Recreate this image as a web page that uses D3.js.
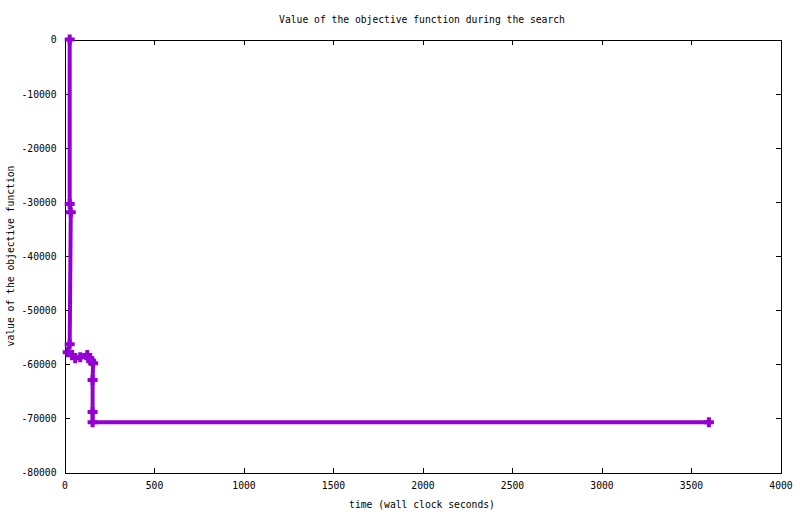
<!DOCTYPE html>
<html>
<head>
<meta charset="utf-8">
<script src="https://cdn.jsdelivr.net/npm/d3@7"></script>
<style>
  body { margin: 0; background: #fff; }
  svg { display: block; }
  text { font-family: "DejaVu Sans Mono", "Liberation Mono", monospace; font-size: 9.7px; fill: #000; }
</style>
</head>
<body>
<svg id="chart" width="800" height="514"></svg>
<script>
// Data (time in wall clock seconds, objective value)
const times  = [29, 29, 35, 29, 18, 43, 60, 88, 127, 138, 149, 160, 157, 157, 157, 3600];
const values = [0, -30400, -31900, -56300, -57800, -58300, -58900, -58700, -58300, -58900, -59400, -59800, -62900, -68800, -70700, -70700];
const xTicks = [0, 500, 1000, 1500, 2000, 2500, 3000, 3500, 4000];
const yTicks = [0, -10000, -20000, -30000, -40000, -50000, -60000, -70000, -80000];
const title = "Value of the objective function during the search";
const xLabel = "time (wall clock seconds)";
const yLabel = "value of the objective function";

const svg = d3.select("#chart");
const L = 64.5, R = 780.5, T = 39.5, B = 472.5;
const x = d3.scaleLinear().domain([0, 4000]).range([L, R]);
const y = d3.scaleLinear().domain([-80000, 0]).range([B, T]);

const color = "#9400d3";

// Axes with inward ticks on all four sides
const gB = svg.append("g").attr("transform", `translate(0,${B})`)
  .call(d3.axisBottom(x).tickValues(xTicks).tickSize(-5).tickPadding(10).tickFormat(d3.format("d")));
const gT = svg.append("g").attr("transform", `translate(0,${T})`)
  .call(d3.axisTop(x).tickValues(xTicks).tickSize(-5).tickFormat(""));
const gL = svg.append("g").attr("transform", `translate(${L},0)`)
  .call(d3.axisLeft(y).tickValues(yTicks).tickSize(-5).tickPadding(8).tickFormat(d => d3.format("d")(d).replace("−", "-")));
const gR = svg.append("g").attr("transform", `translate(${R},0)`)
  .call(d3.axisRight(y).tickValues(yTicks).tickSize(-5).tickFormat(""));

[gB, gT, gL, gR].forEach(g => {
  g.selectAll(".domain").attr("stroke", "#000").attr("stroke-width", 1).attr("shape-rendering", "crispEdges");
  g.selectAll(".tick line").attr("stroke", "#000").attr("stroke-width", 1).attr("shape-rendering", "crispEdges");
  g.selectAll(".tick text").attr("fill", "#000").style("font-family", "DejaVu Sans Mono").style("font-size", "9.7px");
});
gB.selectAll(".tick text").attr("dy", "0.71em");
gL.selectAll(".tick text").attr("dy", "0.35em");

// Line
const pts = times.map((t, i) => [t, values[i]]);
const line = d3.line().x(d => x(d[0])).y(d => y(d[1]));
svg.append("path").datum(pts)
  .attr("d", line)
  .attr("fill", "none")
  .attr("stroke", color)
  .attr("stroke-width", 4)
  .attr("stroke-linejoin", "miter");

// Markers (+)
svg.append("g").selectAll("path").data(pts).join("path")
  .attr("transform", d => `translate(${x(d[0])},${y(d[1])})`)
  .attr("d", "M-5,0H5M0,-5V5")
  .attr("stroke", color)
  .attr("stroke-width", 4)
  .attr("fill", "none");

// Title and labels
svg.append("text").attr("x", 422).attr("y", 23).attr("text-anchor", "middle").text(title);
svg.append("text").attr("x", 422).attr("y", 508).attr("text-anchor", "middle").text(xLabel);
svg.append("text").attr("transform", `translate(14,${(T + B) / 2}) rotate(-90)`)
  .attr("text-anchor", "middle").text(yLabel);
</script>
</body>
</html>
